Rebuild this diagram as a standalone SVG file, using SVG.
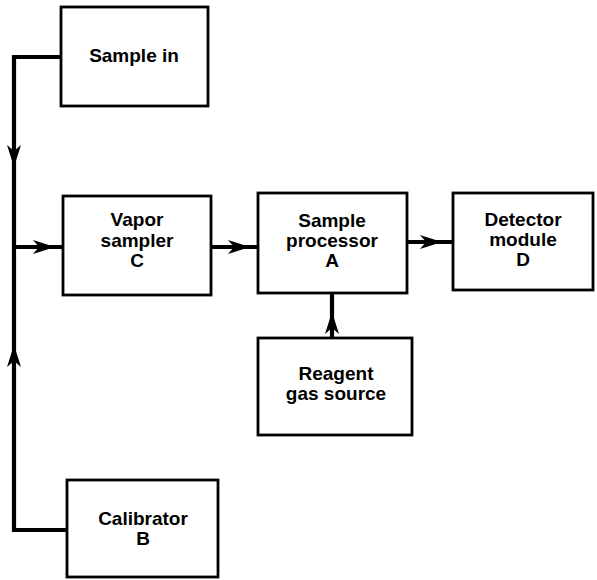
<svg xmlns="http://www.w3.org/2000/svg" xmlns:xlink="http://www.w3.org/1999/xlink" width="597" height="580" viewBox="0 0 597 580">
<style>
.box{fill:#fff;stroke:#000;stroke-width:2.8}
.lbl{font-family:"Liberation Sans",Arial,sans-serif;font-weight:bold;font-size:19px;text-anchor:middle;fill:#000}
.wire{fill:none;stroke:#000;stroke-width:4.2;stroke-linejoin:miter}
</style>
<defs>
<path id="ah" d="M0,0 L-22,-7 L-16,0 L-22,7 Z" fill="#000"/>
</defs>
<rect width="597" height="580" fill="#fff"/>
<g id="connectors">
<path class="wire" d="M61,57 H14 V530 H67"/>
<path class="wire" d="M14,247 H63"/>
<path class="wire" d="M211,247 H258"/>
<path class="wire" d="M407,242 H453"/>
<path class="wire" d="M332,338 V293"/>
<use xlink:href="#ah" transform="translate(14,167) rotate(90)"/>
<use xlink:href="#ah" transform="translate(14,345) rotate(-90)"/>
<use xlink:href="#ah" transform="translate(55,247)"/>
<use xlink:href="#ah" transform="translate(250,247)"/>
<use xlink:href="#ah" transform="translate(442,242)"/>
<use xlink:href="#ah" transform="translate(332,312) rotate(-90)"/>
</g>
<g id="sample-in">
<rect class="box" x="61" y="7" width="147" height="99"/>
<text class="lbl" x="134" y="62">Sample in</text>
</g>
<g id="vapor-sampler">
<rect class="box" x="63" y="196" width="148" height="99"/>
<text class="lbl" x="137" y="226">Vapor</text>
<text class="lbl" x="137" y="247">sampler</text>
<text class="lbl" x="137" y="267">C</text>
</g>
<g id="sample-processor">
<rect class="box" x="258" y="193" width="149" height="100"/>
<text class="lbl" x="332" y="227">Sample</text>
<text class="lbl" x="332" y="247">processor</text>
<text class="lbl" x="332" y="267">A</text>
</g>
<g id="detector-module">
<rect class="box" x="453" y="193" width="140" height="97"/>
<text class="lbl" x="523" y="226">Detector</text>
<text class="lbl" x="523" y="246">module</text>
<text class="lbl" x="523" y="266">D</text>
</g>
<g id="reagent-gas-source">
<rect class="box" x="258" y="338" width="154" height="97"/>
<text class="lbl" x="336" y="380">Reagent</text>
<text class="lbl" x="336" y="400">gas source</text>
</g>
<g id="calibrator">
<rect class="box" x="67" y="480" width="151" height="97"/>
<text class="lbl" x="143" y="525">Calibrator</text>
<text class="lbl" x="143" y="545">B</text>
</g>
</svg>
